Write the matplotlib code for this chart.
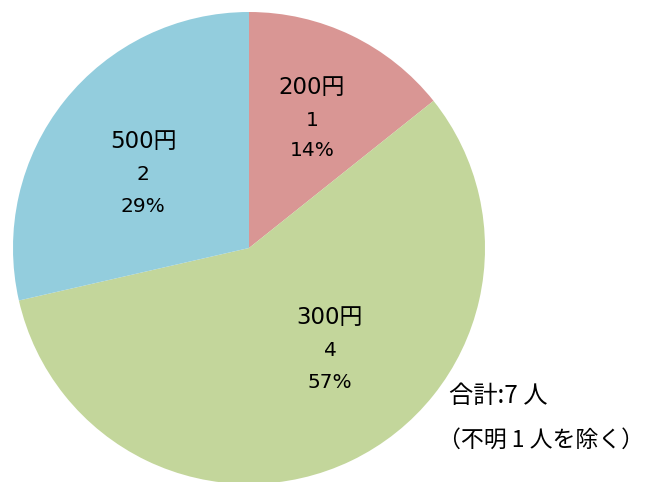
import matplotlib
matplotlib.use('Agg')
import matplotlib.pyplot as plt

plt.rcParams['font.family'] = ['DejaVu Sans', 'Noto Sans CJK JP']

# data
categories = ['200円', '300円', '500円']
counts = [1, 4, 2]
colors = ['#D99694', '#C3D69B', '#93CDDD']
note_lines = ['合計:7 人', '（不明 1 人を除く）']

W, H = 646, 482
fig = plt.figure(figsize=(W / 100, H / 100), dpi=100)
ax = fig.add_axes([0, 0, 1, 1])

cx, cy, r = 249, 248, 236
total = sum(counts)

# y axis is flipped, so counterclock in data = clockwise on screen
ax.pie(counts, colors=colors, startangle=-90, counterclock=True,
       center=(cx, cy), radius=r, frame=True,
       wedgeprops=dict(linewidth=0))
ax.set_xlim(0, W)
ax.set_ylim(H, 0)
ax.set_aspect('equal')
ax.axis('off')

label_pos = [(312, 87), (330, 318), (143, 142)]
for (x, y), cat, n in zip(label_pos, categories, counts):
    pct = f"{round(n / total * 100)}%"
    ax.text(x, y, cat, ha='center', va='center', fontsize=16.5)
    ax.text(x, y + 33, str(n), ha='center', va='center', fontsize=14.5)
    ax.text(x, y + 64, pct, ha='center', va='center', fontsize=14.5)

cjk = ['Noto Sans CJK JP', 'DejaVu Sans']
ax.text(449, 396, note_lines[0], ha='left', va='center', fontsize=17.5,
        family=cjk)
ax.text(644, 440, note_lines[1], ha='right', va='center', fontsize=16.5,
        family=cjk)

fig.savefig('out.png', dpi=100)
